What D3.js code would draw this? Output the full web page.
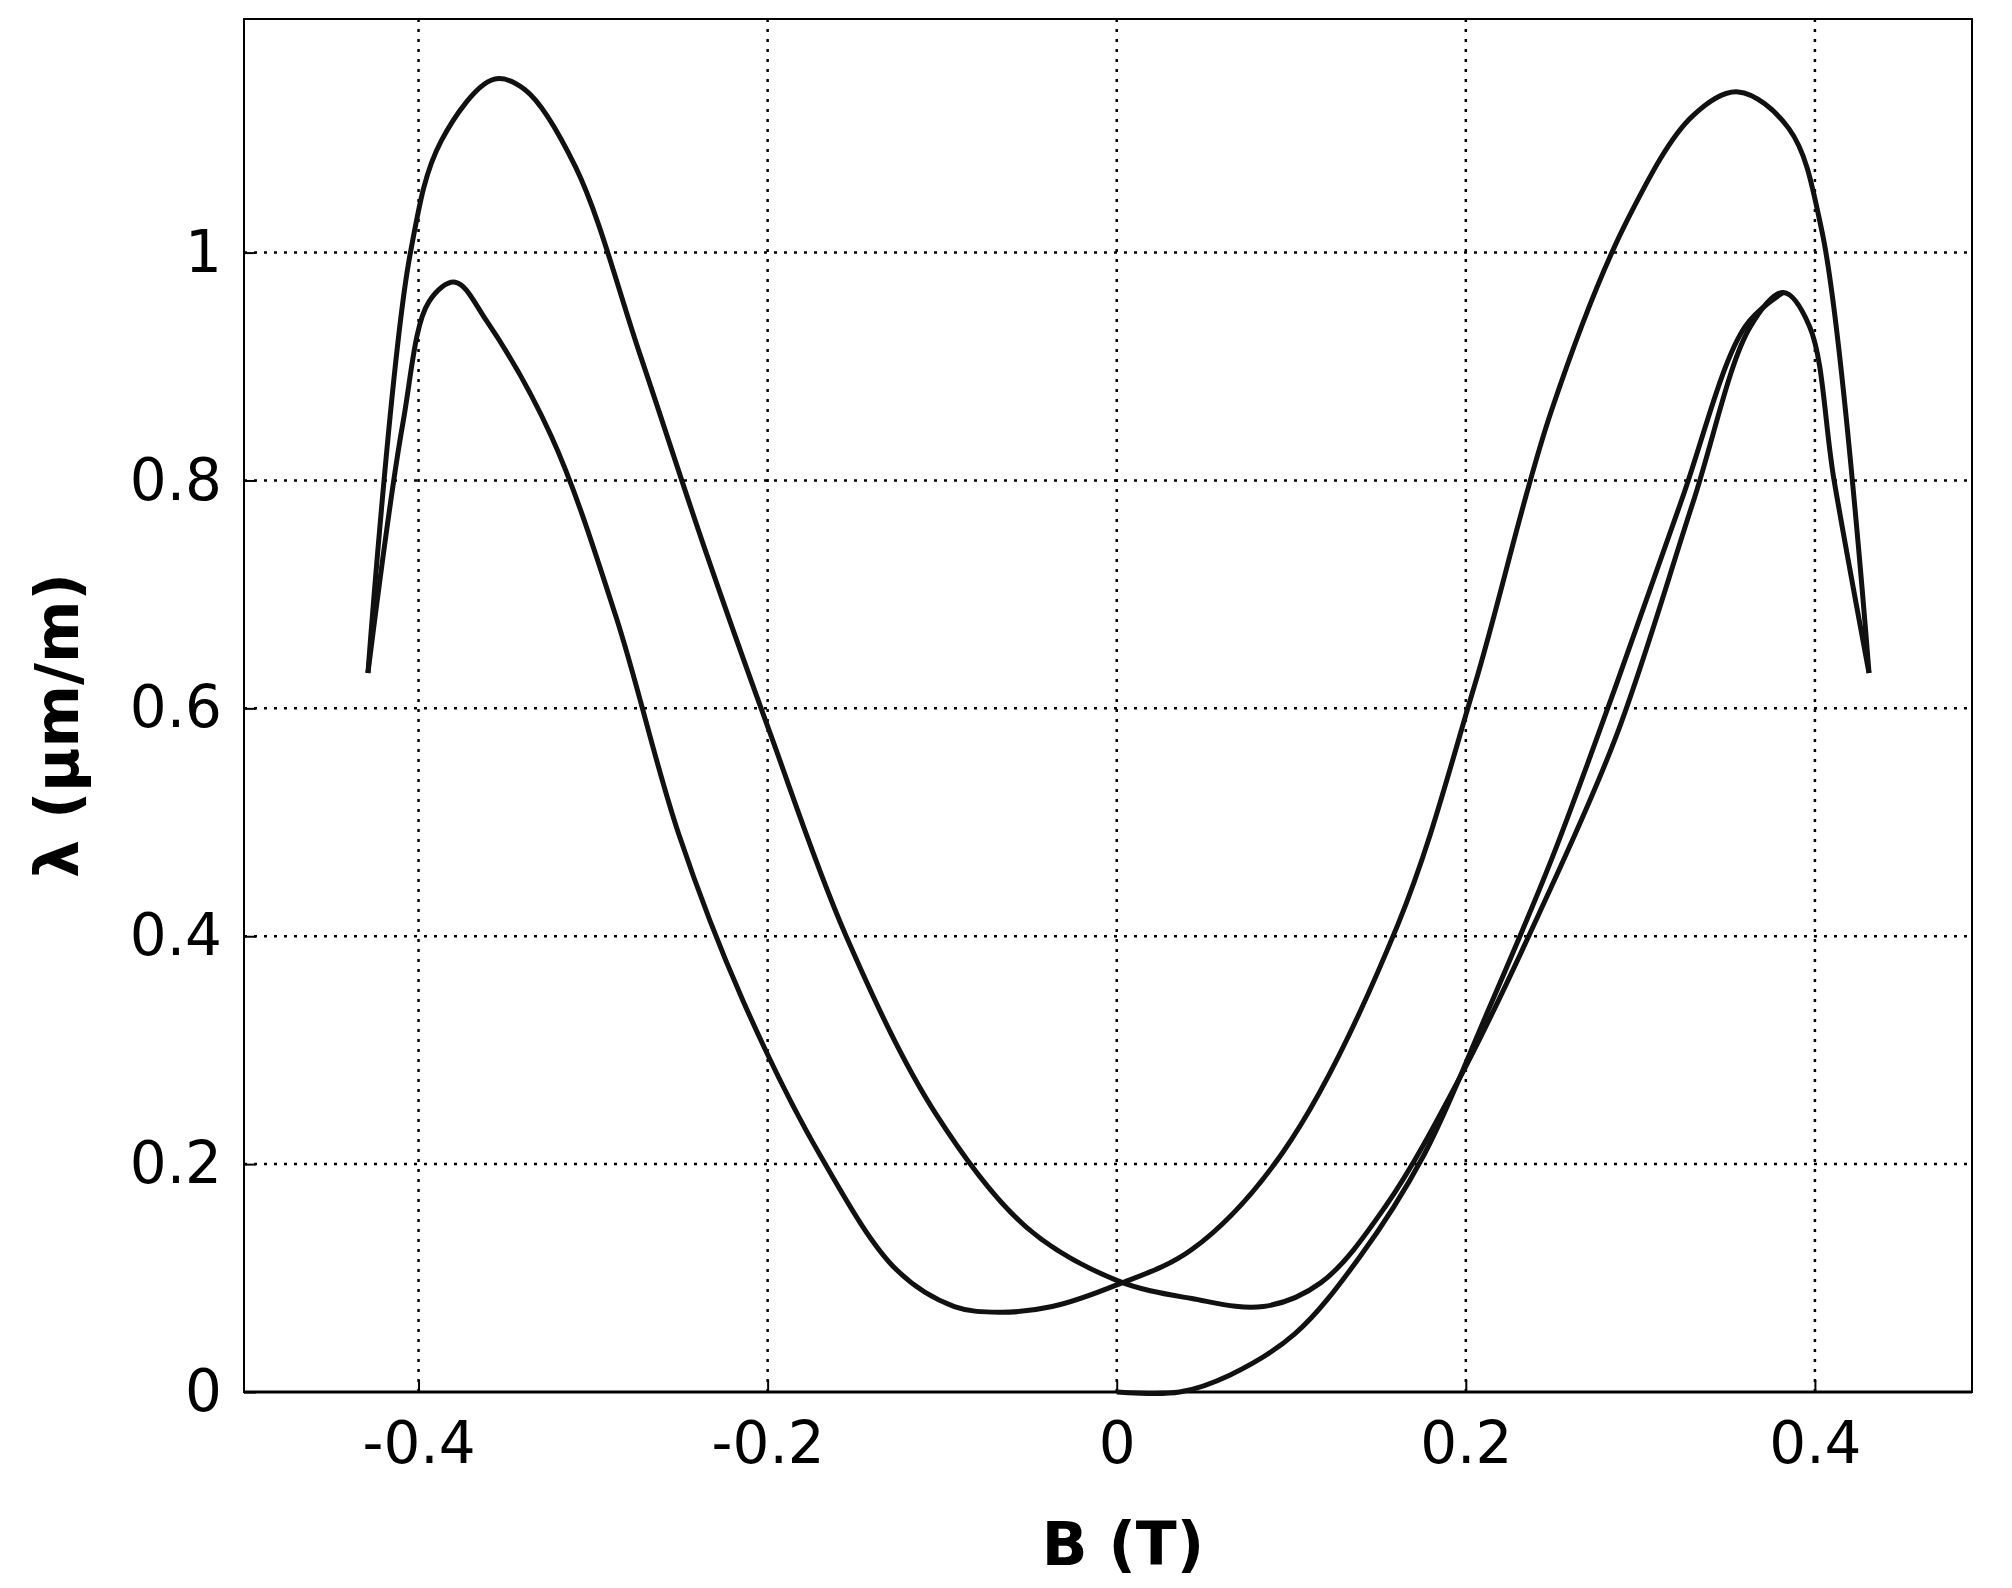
<!DOCTYPE html>
<html><head><meta charset="utf-8">
<script src="https://cdn.jsdelivr.net/npm/d3@7"></script>
<style>body{margin:0;background:#fff}svg text{font-family:"DejaVu Sans",sans-serif}</style>
</head><body>
<svg id="chart" width="2012" height="1588"></svg>
<script>
// data: [B (T), lambda (um/m)]
let xTicks = [-0.4, -0.2, 0, 0.2, 0.4];
let yTicks = [0, 0.2, 0.4, 0.6, 0.8, 1];
let branchUp = [[-0.429,0.631],[-0.405,0.997],[-0.387,1.098],[-0.357,1.152],[-0.339,1.143],[-0.31,1.075],[-0.273,0.91],[-0.236,0.74],[-0.199,0.58],[-0.155,0.4],[-0.104,0.245],[-0.052,0.145],[0,0.098],[0.043,0.082],[0.084,0.075],[0.117,0.096],[0.154,0.163],[0.198,0.28],[0.242,0.42],[0.286,0.575],[0.33,0.78],[0.363,0.935],[0.382,0.965],[0.397,0.935],[0.411,0.8],[0.431,0.631]];
let branchDown = [[0.431,0.631],[0.404,1.019],[0.385,1.109],[0.356,1.141],[0.33,1.12],[0.293,1.03],[0.249,0.861],[0.205,0.62],[0.161,0.41],[0.095,0.21],[0.043,0.125],[0,0.094],[-0.037,0.075],[-0.067,0.07],[-0.093,0.075],[-0.126,0.107],[-0.17,0.208],[-0.214,0.343],[-0.251,0.49],[-0.287,0.681],[-0.324,0.839],[-0.361,0.94],[-0.379,0.974],[-0.394,0.957],[-0.409,0.85],[-0.429,0.631]];
let virgin = [[0,0],[0.036,0],[0.065,0.015],[0.102,0.051],[0.139,0.118],[0.176,0.208],[0.212,0.332],[0.249,0.467],[0.286,0.62],[0.323,0.78],[0.36,0.935],[0.382,0.965]];

let svg = d3.select('#chart');
let L = 244, R = 1972, T = 19, B = 1392;
let x = d3.scaleLinear().domain([-0.5, 0.49]).range([L, R]);
let y = d3.scaleLinear().domain([0, 1.205]).range([B, T]);

// grid
svg.append('g').selectAll('line').data(xTicks).enter().append('line')
    .attr('x1', d => x(d)).attr('x2', d => x(d)).attr('y1', T).attr('y2', B)
    .attr('stroke', '#000').attr('stroke-width', 2.5).attr('stroke-dasharray', '3,7');
svg.append('g').selectAll('line').data(yTicks.slice(1)).enter().append('line')
    .attr('x1', L).attr('x2', R).attr('y1', d => y(d)).attr('y2', d => y(d))
    .attr('stroke', '#000').attr('stroke-width', 2.5).attr('stroke-dasharray', '3,7');

// axes
let xAxis = svg.append('g').attr('transform', `translate(0,${B})`)
    .call(d3.axisBottom(x).tickValues(xTicks).tickSize(-12).tickPadding(30).tickFormat(d => d === 0 ? '0' : d));
let yAxis = svg.append('g').attr('transform', `translate(${L},0)`)
    .call(d3.axisLeft(y).tickValues(yTicks).tickSize(-12).tickPadding(22).tickFormat(d => d === 0 ? '0' : d));
[xAxis, yAxis].forEach(a => {
    a.select('.domain').remove();
    a.selectAll('text').attr('font-size', 58).attr('font-weight', 500).attr('fill', '#000');
    a.selectAll('line').attr('stroke-width', 2);
});
svg.append('rect').attr('x', L).attr('y', T).attr('width', R - L).attr('height', B - T)
    .attr('fill', 'none').attr('stroke', '#000').attr('stroke-width', 2);
svg.append('line').attr('x1', L).attr('x2', R).attr('y1', B).attr('y2', B)
    .attr('stroke', '#000').attr('stroke-width', 3);

// curves
let line = d3.line().x(d => x(d[0])).y(d => y(d[1])).curve(d3.curveCatmullRom);
[branchUp, branchDown, virgin].forEach(s => {
    svg.append('path').datum(s).attr('d', line)
        .attr('fill', 'none').attr('stroke', '#111').attr('stroke-width', 5);
});

// labels
svg.append('text').attr('x', (L + R) / 2 + 15).attr('y', 1565).attr('text-anchor', 'middle')
    .attr('font-size', 60).attr('font-weight', 'bold').text('B (T)');
svg.append('text').attr('transform', `translate(78,${(T + B) / 2 + 20}) rotate(-90)`)
    .attr('text-anchor', 'middle').attr('font-size', 60).attr('font-weight', 'bold').text('λ (µm/m)');
</script>
</body></html>
